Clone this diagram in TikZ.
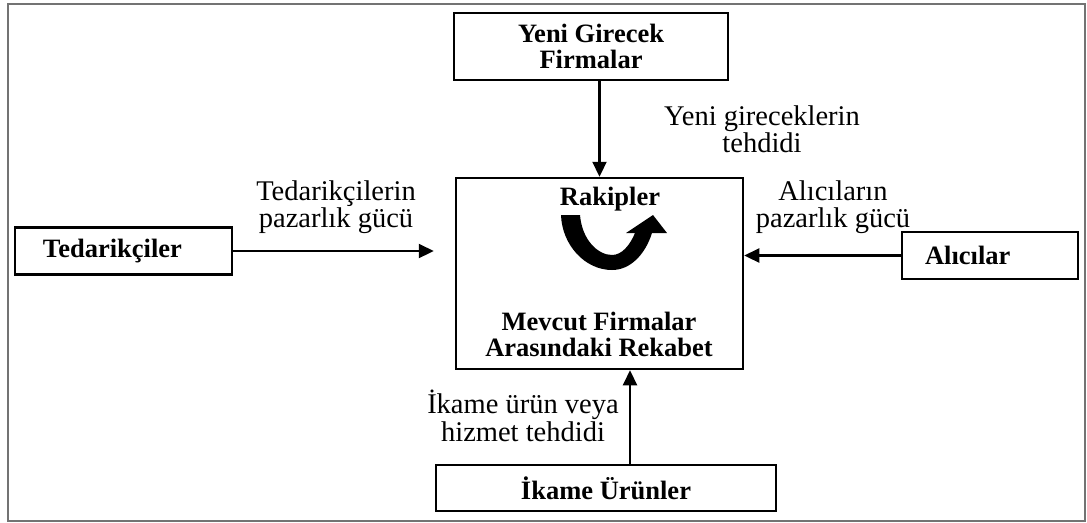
\documentclass[tikz,border=0pt]{standalone}
\usepackage{fontspec}
\setmainfont{Liberation Serif}
\usetikzlibrary{arrows.meta}

\begin{document}
\begin{tikzpicture}[x=0.4pt,y=-0.4pt,
	kutu/.style={draw, line width=1pt, inner sep=0pt, align=center, font=\bfseries\fontsize{10.6}{10.4}\selectfont},
	etiket/.style={align=center, font=\fontsize{11.4}{11}\selectfont},
	ok/.style={line width=0.9pt, -{Triangle[length=6pt,width=5.6pt]}}]
\useasboundingbox (0,0) rectangle (1087,522);
\draw[black!55, line width=0.9pt] (8,4) rectangle (1085,521);

% kutular
\node[kutu, minimum width=109.6pt, minimum height=26.8pt] (yeni) at (591,46.5) {Yeni Girecek\\Firmalar};
\node[kutu, minimum width=114.8pt, minimum height=76.4pt] (rekabet) at (599.5,273.5) {};
\node[kutu, minimum height=18.8pt, text width=64.4pt, inner xsep=11.2pt, align=left] (tedarik) at (123.5,251) {Tedarikçiler};
\node[kutu, minimum height=18.8pt, text width=52pt, inner xsep=9.2pt, align=left] (alici) at (990,255.5) {Alıcılar};
\node[kutu, minimum width=136pt, minimum height=18.4pt] (ikame) at (606,488) {İkame Ürünler};

% ana kutunun icindekiler
\node[font=\bfseries\fontsize{10.6}{10.4}\selectfont] (rakip) at (610,199) {Rakipler};
\node[kutu, draw=none] (mevcut) at (599,334) {Mevcut Firmalar\\Arasındaki Rekabet};
\fill (561,215) -- (580,215) .. controls (582,240) and (598,255) .. (612,255)
	.. controls (622,255) and (630,245) .. (635,233) -- (626,233) -- (653,215) -- (667,233) -- (652,233)
	.. controls (645,255) and (630,270) .. (612,270) .. controls (585,270) and (562,245) .. (561,215) -- cycle;

% etiketler
\node[etiket] (tehdit) at (762,129) {Yeni gireceklerin\\tehdidi};
\node[etiket] (tgucu) at (336,207) {Tedarikçilerin\\pazarlık gücü};
\node[etiket] (agucu) at (833,207) {Alıcıların\\pazarlık gücü};
\node[etiket] (ikamet) at (523,416) {İkame ürün veya\\hizmet tehdidi};

% oklar
\coordinate (ikx) at (630,488);
\draw[ok] (yeni.south -| rekabet.north) -- (rekabet.north);
\draw[ok, shorten >=8.4pt] (tedarik.east) -- (tedarik.east -| rekabet.west);
\draw[ok] (alici.west) -- (alici.west -| rekabet.east);
\draw[ok] (ikame.north -| ikx) -- (rekabet.south -| ikx);

\end{tikzpicture}
\end{document}
